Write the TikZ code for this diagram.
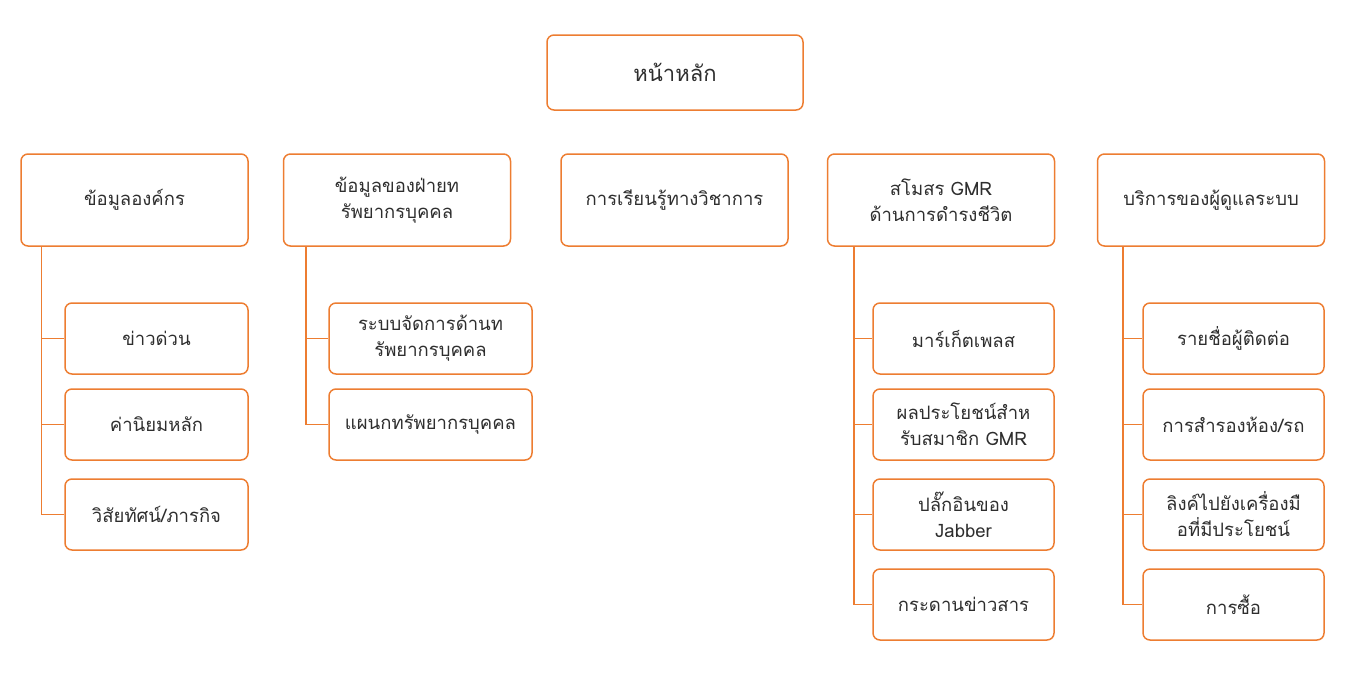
\documentclass[tikz,border=0pt]{standalone}
\usepackage{fontspec}
\usepackage{xcolor}
\newfontfamily\thaifont[Script=Thai]{Loma}
\usetikzlibrary{positioning,calc}
\definecolor{gmrorange}{HTML}{ED7D31}
\definecolor{gmrtext}{HTML}{2E2E2E}
\tikzset{
    menu-box/.style={
        draw=gmrorange,
        line width=1.5pt,
        rounded corners=7pt,
        align=center,
        inner sep=0pt,
        text=gmrtext,
        font=\thaifont\fontsize{18.5}{26}\selectfont
    },
    home-box/.style={
        menu-box,
        minimum width=256pt,
        minimum height=75pt,
        font=\thaifont\fontsize{22}{26}\selectfont
    },
    top-box/.style={
        menu-box,
        minimum width=227pt,
        minimum height=92pt
    },
    sub-box/.style={
        menu-box,
        minimum height=71pt
    },
    branch/.style={
        draw=gmrorange,
        line width=1.5pt
    }
}

\begin{document}
\begin{tikzpicture}[x=1pt,y=-1pt]
       \useasboundingbox (0,0) rectangle (1359,699);
       \node[home-box] (home) at (675,72.5) {หน้าหลัก};

       \node[top-box] (org) at (134.5,200) {ข้อมูลองค์กร};
       \node[top-box] (hr) at (397,200) {ข้อมูลของฝ่ายท\\รัพยากรบุคคล};
       \node[top-box] (learn) at (674.5,200) {การเรียนรู้ทางวิชาการ};
       \node[top-box] (club) at (941,200) {สโมสร GMR\\ด้านการดำรงชีวิต};
       \node[top-box] (serv) at (1211,200) {บริการของผู้ดูแลระบบ};

       \node[sub-box,minimum width=183pt] (news) at (156.5,338.5) {ข่าวด่วน};
       \node[sub-box,minimum width=183pt] (values) at (156.5,424.5) {ค่านิยมหลัก};
       \node[sub-box,minimum width=183pt] (vision) at (156.5,514.5) {วิสัยทัศน์/ภารกิจ};

       \node[sub-box,minimum width=203pt] (hrsys) at (430.5,338.5) {ระบบจัดการด้านท\\รัพยากรบุคคล};
       \node[sub-box,minimum width=203pt] (hrdept) at (430.5,424.5) {แผนกทรัพยากรบุคคล};

       \node[sub-box,minimum width=181pt] (market) at (963.5,338.5) {มาร์เก็ตเพลส};
       \node[sub-box,minimum width=181pt] (perks) at (963.5,424.5) {ผลประโยชน์สำห\\รับสมาชิก GMR};
       \node[sub-box,minimum width=181pt] (jabber) at (963.5,514.5) {ปลั๊กอินของ\\Jabber};
       \node[sub-box,minimum width=181pt] (board) at (963.5,604.5) {กระดานข่าวสาร};

       \node[sub-box,minimum width=181pt] (contacts) at (1233.5,338.5) {รายชื่อผู้ติดต่อ};
       \node[sub-box,minimum width=181pt] (booking) at (1233.5,424.5) {การสำรองห้อง/รถ};
       \node[sub-box,minimum width=181pt] (tools) at (1233.5,514.5) {ลิงค์ไปยังเครื่องมื\\อที่มีประโยชน์};
       \node[sub-box,minimum width=181pt] (buy) at (1233.5,604.5) {การซื้อ};

       % branches
       \foreach \child in {news,values,vision}
           \draw[branch] ([xshift=21pt]org.south west) |- (\child.west);
       \foreach \child in {hrsys,hrdept}
           \draw[branch] ([xshift=23pt]hr.south west) |- (\child.west);
       \foreach \child in {market,perks,jabber,board}
           \draw[branch] ([xshift=27pt]club.south west) |- (\child.west);
       \foreach \child in {contacts,booking,tools,buy}
           \draw[branch] ([xshift=26pt]serv.south west) |- (\child.west);
   \end{tikzpicture}
\end{document}
